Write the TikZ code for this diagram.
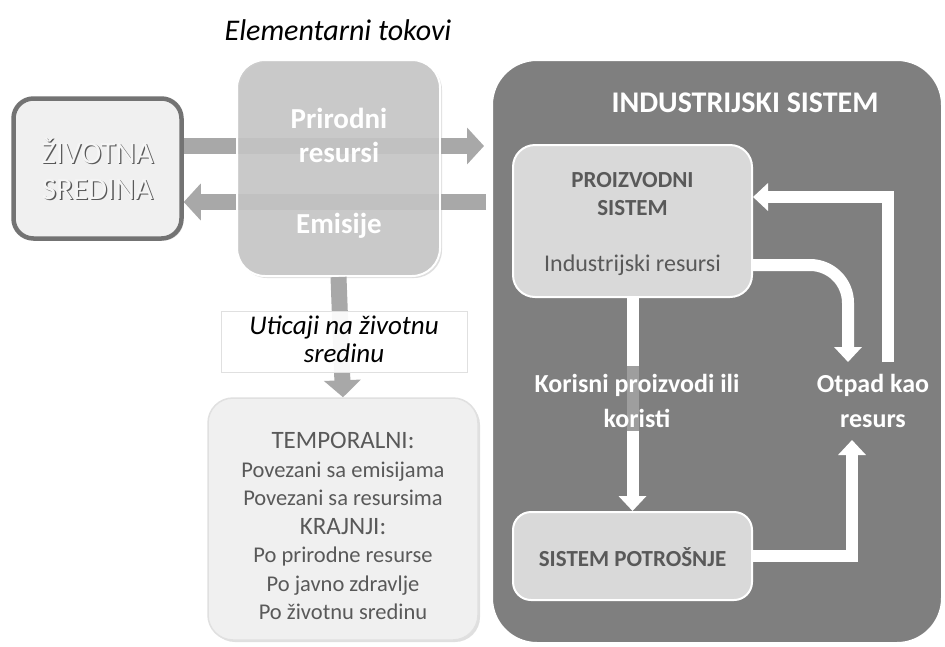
\documentclass[tikz,border=0pt]{standalone}
\usepackage{fontspec}
\setmainfont{Carlito}
\usetikzlibrary{arrows.meta,shadows}
\definecolor{txtgray}{HTML}{595959}
\definecolor{boxgray}{HTML}{D9D9D9}
\definecolor{flowgray}{HTML}{C6C6C6}
\definecolor{indgray}{HTML}{7F7F7F}
\definecolor{arrowgray}{HTML}{A8A8A8}
\definecolor{lightfill}{HTML}{F0F0F0}
\tikzset{
  box/.style={rounded corners=#1, inner sep=0pt},
  softshadow/.style={drop shadow={opacity=0.25, shadow xshift=2pt, shadow yshift=-2pt}},
  grayflow/.style={draw=arrowgray, line width=16pt,
    -{Triangle[width=36pt,length=17pt]}},
  whiteflow/.style={draw=white, line width=12pt,
    -{Triangle[width=27pt,length=15pt]}},
  boxtext/.style={text=txtgray, align=center},
  lighttext/.style={text=white, font=\fontsize{26}{35}\selectfont\bfseries, align=center},
}
\begin{document}
\begin{tikzpicture}[x=1pt,y=-1pt]
\useasboundingbox (0,0) rectangle (945,646);
\fill[white] (0,0) rectangle (945,646);

% industrial system frame
\node[box=45pt, fill=indgray, draw=white, line width=2pt,
      minimum width=450pt, minimum height=583pt] (ind) at (717,351.5) {};
\node[text=white, font=\fontsize{30}{34}\selectfont\bfseries] (indtitle) at (745,103) {INDUSTRIJSKI SISTEM};

% environment box
\node[box=20pt, fill=lightfill, draw=gray!110, line width=4.5pt, softshadow,
      minimum width=168pt, minimum height=140pt] (env) at (97.5,168.5) {};
\node[text=black!65, font=\fontsize{31}{36}\selectfont, align=center] (envshadow) at (98.8,169.8) {ŽIVOTNA\\SREDINA};
\node[text=black!4, font=\fontsize{31}{36}\selectfont, align=center] (envtext) at (97.5,168.5) {ŽIVOTNA\\SREDINA};

% exchange arrows between environment and industry
\coordinate (rstart) at ([yshift=22.5pt]env.east);
\coordinate (lstart) at ([yshift=-33.5pt]env.east);
\draw[grayflow, shorten >=7pt] (rstart) -- (rstart -| ind.west);
\draw[grayflow, shorten <=5pt] (lstart -| ind.west) -- (lstart);

% elementary flows box
\node[font=\fontsize{30}{34}\selectfont\itshape] (elemtitle) at (338,30) {Elementarni tokovi};
\node[box=28pt, fill=flowgray, fill opacity=0.88, draw=white, line width=2pt, softshadow,
      minimum width=203pt, minimum height=216pt] (elem) at (338.5,168) {};
\node[text=white, font=\fontsize{29}{34}\selectfont\bfseries, align=center] (res) at (339,135) {Prirodni\\resursi};
\node[text=white, font=\fontsize{29}{34}\selectfont\bfseries] (emi) at (339,226) {Emisije};

% impacts
\node[box=25pt, fill=lightfill, draw=black!12, line width=1.5pt, softshadow,
      minimum width=270pt, minimum height=242pt] (temp) at (343,519) {};
\draw[grayflow] (elem.south) -- (temp.north);
\node[fill=white, fill opacity=0.93, draw=black!12, line width=0.8pt,
      minimum width=246pt, minimum height=61pt, inner sep=0pt] (impact) at (344,341.5) {};
\node[font=\fontsize{27}{28}\selectfont\itshape, align=center, inner sep=0pt] (impacttext) at (344,339)
      {Uticaji na životnu\\sredinu};
\node[text=txtgray, font=\fontsize{22.5}{28.5}\selectfont, align=center] (templist) at (343,526)
  {{\fontsize{25}{28.5}\selectfont TEMPORALNI:}\\
   Povezani sa emisijama\\
   Povezani sa resursima\\
   {\fontsize{25}{28.5}\selectfont KRAJNJI:}\\
   Po prirodne resurse\\
   Po javno zdravlje\\
   Po životnu sredinu};

% production and consumption systems
\node[box=22pt, fill=boxgray, draw=white, line width=2pt, softshadow,
      minimum width=239pt, minimum height=152pt] (prod) at (632.5,221) {};
\node[boxtext, font=\fontsize{23}{28}\selectfont\bfseries] (prodtitle) at (632.5,194) {PROIZVODNI\\SISTEM};
\node[text=txtgray, font=\fontsize{24}{26}\selectfont] (prodres) at (632.5,265) {Industrijski resursi};
\node[box=18pt, fill=boxgray, draw=white, line width=2pt, softshadow,
      minimum width=239pt, minimum height=88pt] (cons) at (632.5,556) {};
\node[boxtext, font=\fontsize{23}{26}\selectfont\bfseries] (constext) at (632.5,557) {SISTEM POTROŠNJE};

% flows inside the industrial system
\draw[whiteflow] (prod.south) -- (cons.north);
\fill[black!38] (627,366) rectangle (639,431);
\node[lighttext] (useful) at (637,401) {Korisni proizvodi ili\\koristi};

\coordinate (wastein) at (848,362);
\coordinate (wasteback) at (888,362);
\coordinate (wasteup) at (852,440);
\draw[whiteflow, rounded corners=38pt] ([yshift=-44pt]prod.east) -| (wastein);
\draw[whiteflow] (wasteback) |- ([yshift=24pt]prod.east);
\draw[whiteflow] (cons.east) -| (wasteup);
\node[lighttext] (waste) at (873,401) {Otpad kao\\resurs};
\end{tikzpicture}
\end{document}
